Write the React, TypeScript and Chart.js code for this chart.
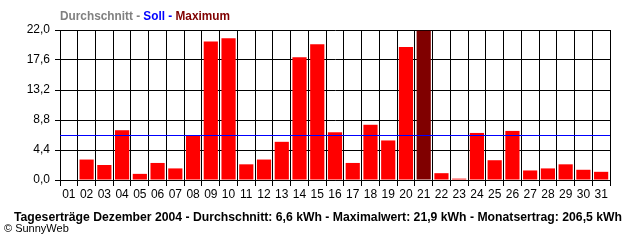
import { useEffect, useRef } from "react";
import { Chart, registerables } from "chart.js";

Chart.register(...registerables);

const DAYS = [
  "01", "02", "03", "04", "05", "06", "07", "08", "09", "10",
  "11", "12", "13", "14", "15", "16", "17", "18", "19", "20",
  "21", "22", "23", "24", "25", "26", "27", "28", "29", "30", "31",
];

const DAILY_KWH = [
  0, 3.0, 2.2, 7.3, 0.9, 2.5, 1.7, 6.5, 20.3, 20.8,
  2.3, 3.0, 5.6, 18.0, 19.9, 7.0, 2.5, 8.1, 5.8, 19.5,
  21.9, 1.0, 0.2, 6.9, 2.9, 7.2, 1.4, 1.7, 2.3, 1.5, 1.2,
];

const SOLL_KWH = 6.5;
const Y_TICKS = [0, 4.4, 8.8, 13.2, 17.6, 22.0];

const LEGEND_PARTS = [
  { text: "Durchschnitt", color: "#808080" },
  { text: " - ", color: "#808080" },
  { text: "Soll", color: "#0000ff" },
  { text: " - ", color: "#0000ff" },
  { text: "Maximum", color: "#800000" },
];

const FOOTER_TITLE =
  "Tageserträge Dezember 2004 - Durchschnitt: 6,6 kWh - Maximalwert: 21,9 kWh - Monatsertrag: 206,5 kWh";
const COPYRIGHT = "© SunnyWeb";

const FONT = "'Liberation Sans', Arial, sans-serif";

function drawFitted(ctx: any, text: string, x: number, y: number, width: number) {
  const w = ctx.measureText(text).width;
  const k = width / w;
  ctx.save();
  ctx.translate(x, y);
  ctx.scale(k, 1);
  ctx.fillText(text, 0, 0);
  ctx.restore();
}

export default function App() {
  const ref = useRef<HTMLCanvasElement | null>(null);

  useEffect(() => {
    const canvas = ref.current;
    if (!canvas) return;
    const maxVal = Math.max(...DAILY_KWH);
    const colors = DAILY_KWH.map((v) => (v === maxVal ? "#800000" : "#ff0000"));

    const textPlugin = {
      id: "texts",
      afterDatasetsDraw(chart: any) {
        const { ctx, scales } = chart;
        const area = chart.chartArea;
        const y = scales.y.getPixelForValue(SOLL_KWH);
        const yy = Math.round(y - 0.5) + 0.5;
        ctx.save();
        ctx.strokeStyle = "#0000ff";
        ctx.lineWidth = 1;
        ctx.beginPath();
        ctx.moveTo(area.left, yy);
        ctx.lineTo(area.right, yy);
        ctx.stroke();
        ctx.restore();
      },
      afterDraw(chart: any) {
        const { ctx } = chart;
        ctx.save();
        ctx.font = `bold 12px ${FONT}`;
        ctx.textBaseline = "alphabetic";
        ctx.textAlign = "left";
        const total = LEGEND_PARTS.reduce((s, p) => s + ctx.measureText(p.text).width, 0);
        const k = 170 / total;
        ctx.save();
        ctx.translate(60, 20);
        ctx.scale(k, 1);
        let x = 0;
        for (const p of LEGEND_PARTS) {
          ctx.fillStyle = p.color;
          ctx.fillText(p.text, x, 0);
          x += ctx.measureText(p.text).width;
        }
        ctx.restore();
        ctx.fillStyle = "#000000";
        ctx.font = `bold 12px ${FONT}`;
        drawFitted(ctx, FOOTER_TITLE, 14, 221, 608);
        ctx.font = `11px ${FONT}`;
        ctx.fillText(COPYRIGHT, 4, 232);
        ctx.restore();
      },
    };

    const chart = new Chart(canvas, {
      type: "bar",
      data: {
        labels: DAYS,
        datasets: [
          {
            data: DAILY_KWH,
            backgroundColor: colors,
            borderWidth: 0,
            categoryPercentage: 1,
            barPercentage: 0.8,
          },
        ],
      },
      options: {
        responsive: false,
        animation: false,
        devicePixelRatio: 1,
        layout: { padding: { top: 30, right: 30, left: 0, bottom: 0 } },
        plugins: {
          legend: { display: false },
          tooltip: { enabled: false },
          title: { display: false },
        },
        scales: {
          x: {
            offset: true,
            grid: {
              offset: true,
              color: "#000000",
              lineWidth: 1,
              tickLength: 6,
              drawTicks: true,
            },
            border: { color: "#000000", width: 1 },
            ticks: {
              color: "#000000",
              font: { family: FONT, size: 12 },
              padding: 1,
              maxRotation: 0,
              autoSkip: false,
            },
            afterFit(scale: any) {
              scale.height = 60;
            },
          },
          y: {
            min: 0,
            max: 22,
            grid: { color: "#000000", lineWidth: 1, tickLength: 5, drawTicks: true },
            border: { color: "#000000", width: 1 },
            ticks: {
              color: "#000000",
              font: { family: FONT, size: 12 },
              padding: 5,
              callback: (v: any) => Number(v).toFixed(1).replace(".", ","),
            },
            afterBuildTicks(scale: any) {
              scale.ticks = Y_TICKS.map((v) => ({ value: v }));
            },
            afterFit(scale: any) {
              scale.width = 60;
            },
          },
        },
      },
      plugins: [textPlugin],
    } as any);

    return () => chart.destroy();
  }, []);

  return (
    <canvas
      ref={ref}
      width={640}
      height={240}
      style={{ position: "absolute", left: 0, top: 0, width: 640, height: 240, display: "block", background: "#ffffff" }}
    />
  );
}
